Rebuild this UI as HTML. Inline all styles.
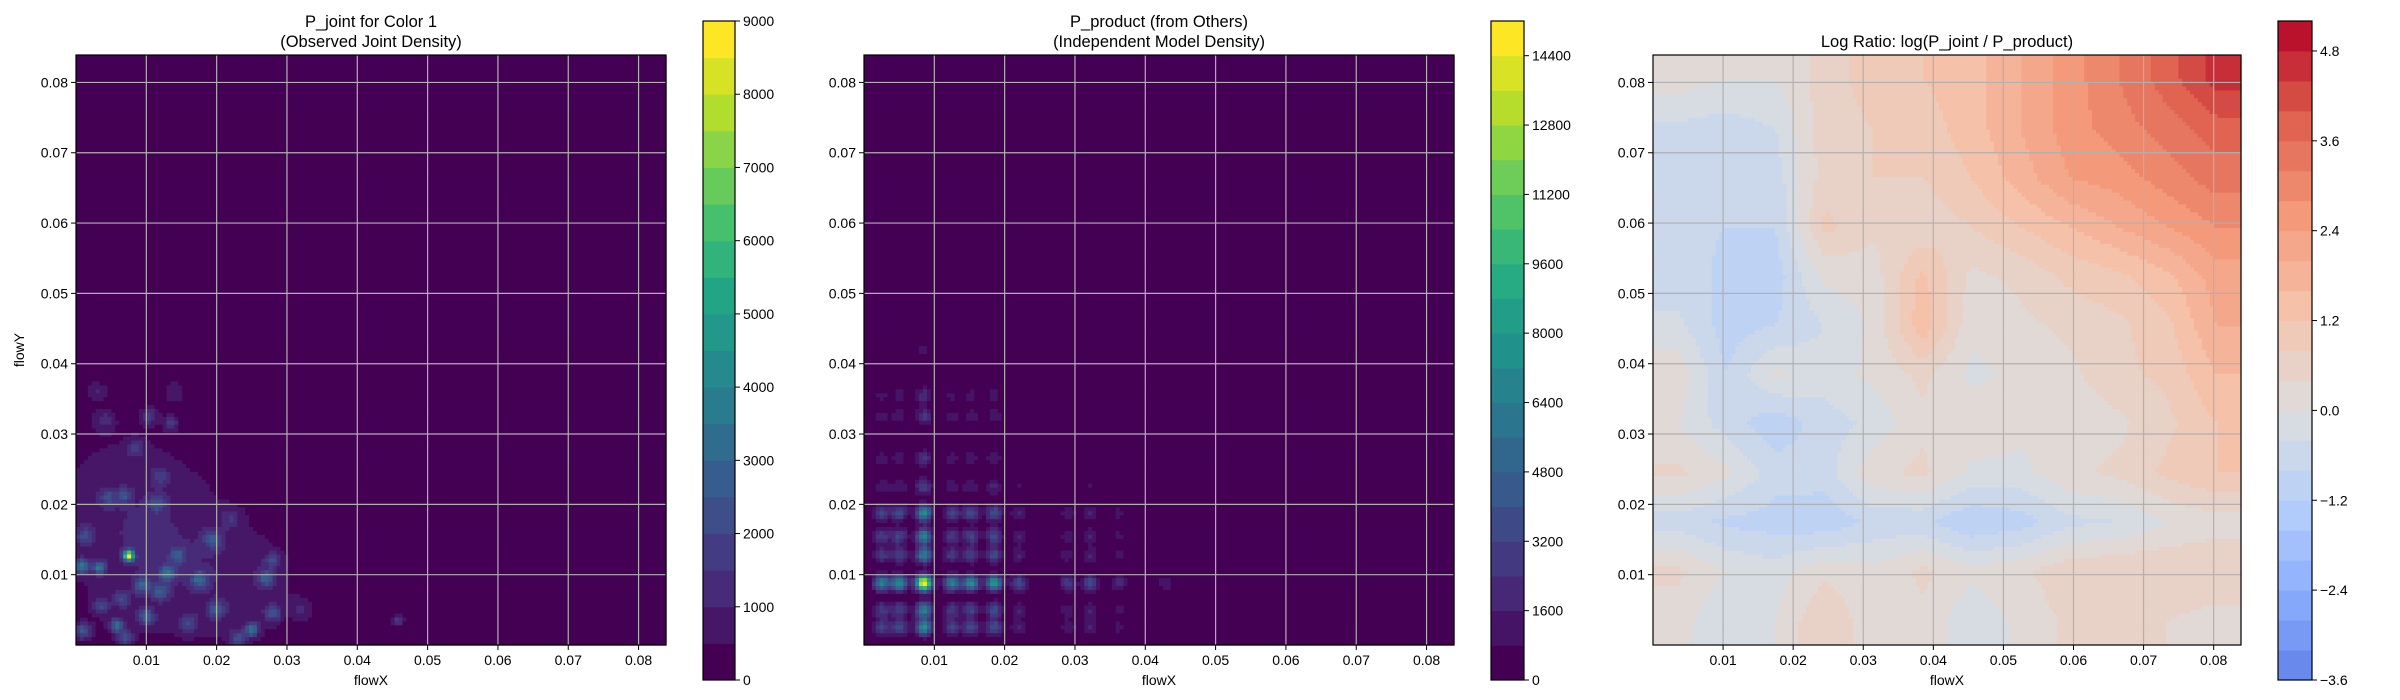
<!DOCTYPE html>
<html><head><meta charset="utf-8">
<style>
html,body{margin:0;padding:0;background:#fff;}
svg{display:block;font-family:"Liberation Sans","DejaVu Sans",sans-serif;}
</style></head>
<body>
<svg id="fig" width="2400" height="700" viewBox="0 0 2400 700" xmlns="http://www.w3.org/2000/svg">
<rect width="2400" height="700" fill="#fff"/>
</svg>
<script>
// ---------- DATA ----------
const xTicks = [0.01,0.02,0.03,0.04,0.05,0.06,0.07,0.08];
const yTicks = [0.01,0.02,0.03,0.04,0.05,0.06,0.07,0.08];
const tickLabels = ["0.01","0.02","0.03","0.04","0.05","0.06","0.07","0.08"];
const domainMin = 0.0, domainMax = 0.0839;

// Panel 1 blobs: [x, y, amplitude, sigma]
const jointBlobs = [
 [0.0075,0.0127,8000,0.0005],[0.0008,0.0112,3200,0.0007],[0.0033,0.0110,3200,0.0006],
 [0.0058,0.0028,2800,0.0007],[0.0095,0.0085,2400,0.0008],[0.0130,0.0102,2600,0.0008],
 [0.0175,0.0093,2400,0.0008],[0.0200,0.0050,2000,0.0008],[0.0250,0.0022,2800,0.0007],
 [0.0280,0.0045,1800,0.0008],[0.0270,0.0095,2200,0.0008],[0.0195,0.0150,2000,0.0009],
 [0.0010,0.0020,2400,0.0008],[0.0100,0.0040,2400,0.0008],[0.0458,0.0035,1800,0.0006],
 [0.0105,0.0325,1400,0.0008],[0.0135,0.0315,1400,0.0007],[0.0085,0.0280,1500,0.0008],
 [0.0045,0.0210,1600,0.0008],[0.0068,0.0212,1800,0.0007],[0.0115,0.0200,1500,0.0009],
 [0.0012,0.0155,1600,0.0009],[0.0145,0.0128,1800,0.0008],[0.0120,0.0075,2000,0.0008],
 [0.0065,0.0065,1400,0.0008],[0.0035,0.0055,1600,0.0008],[0.0280,0.0120,1500,0.0008],
 [0.0070,0.0010,1800,0.0008],[0.0160,0.0030,1500,0.0009],[0.0230,0.0010,1800,0.0008],
 [0.0120,0.0240,1200,0.0009],[0.0040,0.0320,1000,0.0010],[0.0140,0.0360,900,0.0010],
 [0.0030,0.0360,900,0.0010],[0.0220,0.0180,1000,0.0010],[0.0320,0.0050,900,0.0010],
 [0.0120,0.0120,800,0.0090],[0.0060,0.0220,500,0.0090],[0.0250,0.0080,600,0.0060]
];

// Panel 2 marginal peaks (product density)
const xPeakLocs = [0.0025,0.0050,0.0085,0.0125,0.0152,0.0185,0.0220,0.0290,0.0322,0.0362,0.0430];
const xPeakWts  = [0.45,0.50,1.00,0.45,0.50,0.55,0.25,0.20,0.25,0.15,0.10];
const yPeakLocs = [0.0025,0.0050,0.0088,0.0128,0.0155,0.0188,0.0225,0.0265,0.0325,0.0355,0.0420];
const yPeakWts  = [0.50,0.45,1.00,0.45,0.45,0.50,0.22,0.18,0.18,0.15,0.08];
const productPeak = 15000;

// Panel 3 log-ratio readings (rows top->bottom, cols left->right)
const ratioGrid = [
 [0.2,0.0,0.0,0.6,1.0,1.2,1.4,2.0,2.6,3.2,3.8,4.6],
 [-0.5,-0.6,-0.4,0.6,0.8,1.0,1.4,2.0,2.6,3.0,3.4,3.8],
 [-0.8,-0.8,-0.6,0.6,0.8,0.8,1.2,1.8,2.4,2.6,3.0,3.4],
 [-0.7,-0.8,-0.8,0.9,0.5,0.5,0.8,1.2,1.6,2.0,2.4,2.8],
 [-0.6,-0.9,-1.0,0.1,0.2,1.3,0.3,0.5,0.9,1.1,1.5,2.2],
 [-0.3,-1.0,-0.8,-0.4,0.1,1.5,0.1,0.3,0.5,0.7,1.1,2.0],
 [0.3,-0.8,0.1,-0.2,0.1,0.5,-0.1,0.1,0.3,0.7,0.9,1.6],
 [0.0,-0.6,-1.1,-0.6,-0.3,0.3,0.3,0.1,0.1,0.3,0.7,1.2],
 [0.5,0.1,-0.6,-0.6,0.3,0.5,-0.1,-0.1,0.3,0.5,0.9,1.2],
 [-0.6,-0.9,-1.0,-1.1,-0.7,-0.7,-1.2,-1.0,-0.5,-0.4,0.0,0.2],
 [0.5,0.0,-0.2,0.3,0.1,0.5,0.1,0.3,0.7,0.8,0.8,0.8],
 [0.2,-0.4,0.0,0.8,0.1,0.3,-0.3,0.1,0.5,0.4,0.4,0.2]
];

const cb1Ticks = [0,1000,2000,3000,4000,5000,6000,7000,8000,9000];
const cb2Ticks = [0,1600,3200,4800,6400,8000,9600,11200,12800,14400];
const cb3Ticks = [-3.6,-2.4,-1.2,0.0,1.2,2.4,3.6,4.8];
const cb3Labels = ["\u22123.6","\u22122.4","\u22121.2","0.0","1.2","2.4","3.6","4.8"];

// ---------- helpers ----------
const NS="http://www.w3.org/2000/svg";
const svg=document.getElementById('fig');
function mk(tag,attrs,parent){const e=document.createElementNS(NS,tag);for(const k in attrs)e.setAttribute(k,attrs[k]);(parent||svg).appendChild(e);return e;}
function lerpStops(stops,t){t=Math.max(0,Math.min(1,t));const n=stops.length-1;const f=t*n;const i=Math.min(n-1,Math.floor(f));const u=f-i;const a=stops[i],b=stops[i+1];
 return 'rgb('+Math.round(a[0]+(b[0]-a[0])*u)+','+Math.round(a[1]+(b[1]-a[1])*u)+','+Math.round(a[2]+(b[2]-a[2])*u)+')';}
const viridis=[[68,1,84],[72,36,117],[65,68,135],[53,95,141],[42,120,142],[33,145,140],[34,168,132],[68,191,112],[122,209,81],[189,223,38],[253,231,37]];
const coolwarm=[[59,76,192],[98,130,234],[141,176,254],[184,208,249],[221,221,221],[245,196,173],[244,154,123],[222,96,77],[180,4,38]];

function panel(cfg){
 const {L,R,T,B}=cfg;
 const sx=v=>L+(v-domainMin)/(domainMax-domainMin)*(R-L);
 const sy=v=>B-(v-domainMin)/(domainMax-domainMin)*(B-T);
 const nLev=cfg.levels.length-1;
 const bandColor=k=>cfg.tOf?lerpStops(cfg.cmap,cfg.tOf((cfg.levels[k]+cfg.levels[k+1])/2)):lerpStops(cfg.cmap,k/(nLev-1));
 const g=mk('g',{});
 
 
 const N=150, cw=(R-L)/N, ch=(B-T)/N;
 for(let j=0;j<N;j++){
  const yv=domainMax-(j+0.5)/N*(domainMax-domainMin);
  let runStart=0, runLev=-1;
  const levs=[];
  for(let i=0;i<N;i++){
   const xv=domainMin+(i+0.5)/N*(domainMax-domainMin);
   const v=cfg.f(xv,yv);
   let k=0; while(k<nLev-1 && v>=cfg.levels[k+1]) k++;
   levs.push(k);
  }
  levs.push(-2);
  for(let i=0;i<=N;i++){
   if(levs[i]!==runLev){
    if(runLev>=0){
     const r=mk('rect',{x:(L+runStart*cw).toFixed(2),y:(T+j*ch).toFixed(2),width:((i-runStart)*cw+0.6).toFixed(2),height:(ch+0.6).toFixed(2),fill:bandColor(runLev)},g);
     
     
    }
    runStart=i; runLev=levs[i];
   }
  }
 }
 const grid=mk('g',{stroke:'#b0b0b0','stroke-width':1.2});
 
 
 xTicks.forEach(v=>mk('line',{x1:sx(v),x2:sx(v),y1:T,y2:B},grid));
 yTicks.forEach(v=>mk('line',{y1:sy(v),y2:sy(v),x1:L,x2:R},grid));
 const fr=mk('rect',{x:L,y:T,width:R-L,height:B-T,fill:'none',stroke:'#000','stroke-width':1.2});
 
 
 const xt=mk('g',{'font-size':'14px',fill:'#000','text-anchor':'middle'});
 
 
 xTicks.forEach((v,i)=>{mk('line',{x1:sx(v),x2:sx(v),y1:B,y2:B+5,stroke:'#000'},xt);const t=mk('text',{x:sx(v),y:B+20},xt);t.textContent=tickLabels[i];});
 const yt=mk('g',{'font-size':'14px',fill:'#000','text-anchor':'end'});
 
 
 yTicks.forEach((v,i)=>{mk('line',{x1:L-5,x2:L,y1:sy(v),y2:sy(v),stroke:'#000'},yt);const t=mk('text',{x:L-8,y:sy(v)+5},yt);t.textContent=tickLabels[i];});
 const xl=mk('text',{x:(L+R)/2,y:B+40,'font-size':'14px','text-anchor':'middle'});
 xl.textContent='flowX';
 
 
 const tt=mk('text',{x:(L+R)/2,y:cfg.title.length>1?27:47,'font-size':'16.5px','text-anchor':'middle'});
 
 
 cfg.title.forEach((s,i)=>{const ts=mk('tspan',{x:(L+R)/2,dy:i?20:0},tt);ts.textContent=s;});
 const cb=mk('g',{});
 
 
 const cT=21,cB=680,cL=cfg.cbL,cR=cfg.cbR;
 const lv=cfg.levels, lo=lv[0], hi=lv[lv.length-1];
 const cy=v=>cB-(v-lo)/(hi-lo)*(cB-cT);
 for(let k=0;k<nLev;k++){
  const r=mk('rect',{x:cL,y:cy(lv[k+1]),width:cR-cL,height:cy(lv[k])-cy(lv[k+1])+0.5,fill:bandColor(k)},cb);
  
  
 }
 mk('rect',{x:cL,y:cT,width:cR-cL,height:cB-cT,fill:'none',stroke:'#000','stroke-width':1.2},cb);
 cfg.cbTicks.forEach((v,i)=>{mk('line',{x1:cR,x2:cR+5,y1:cy(v),y2:cy(v),stroke:'#000'},cb);const t=mk('text',{x:cR+8,y:cy(v)+5,'font-size':'14px'},cb);t.textContent=cfg.cbLabels?cfg.cbLabels[i]:String(v);});
}

function range(a,b,s){const r=[];for(let v=a;v<=b+1e-9;v+=s)r.push(+v.toFixed(6));return r;}
function gauss(d,s){return Math.exp(-d*d/(2*s*s));}

panel({name:'joint',L:76,R:666,T:55,B:645,cbL:703,cbR:735,cmap:viridis,levels:range(0,9000,500),cbTicks:cb1Ticks,
 title:['P_joint for Color 1','(Observed Joint Density)'],
 f:(x,y)=>{let s=0;for(const b of jointBlobs){s+=b[2]*gauss(x-b[0],b[3])*gauss(y-b[1],b[3]);}return s;}});
const yl=mk('text',{x:0,y:0,'font-size':'14px','text-anchor':'middle',transform:'translate(24,350) rotate(-90)'});
yl.textContent='flowY';



panel({name:'product',L:864,R:1454,T:55,B:645,cbL:1491,cbR:1524,cmap:viridis,levels:range(0,15200,800),cbTicks:cb2Ticks,
 title:['P_product (from Others)','(Independent Model Density)'],
 f:(x,y)=>{let fx=0,fy=0;for(let i=0;i<xPeakLocs.length;i++)fx+=xPeakWts[i]*gauss(x-xPeakLocs[i],0.0008);
  for(let i=0;i<yPeakLocs.length;i++)fy+=yPeakWts[i]*gauss(y-yPeakLocs[i],0.0008);return productPeak*fx*fy;}});

panel({name:'log-ratio',L:1653,R:2241,T:55,B:645,cbL:2278,cbR:2312,cmap:coolwarm,levels:range(-3.6,5.2,0.4),cbTicks:cb3Ticks,cbLabels:cb3Labels,
 tOf:v=>v<0?0.5*(v+3.6)/3.6*0.75+0.125:0.5+0.5*v/5.2,
 title:['Log Ratio: log(P_joint / P_product)'],
 f:(x,y)=>{const n=ratioGrid.length,m=ratioGrid[0].length;
  const cx=Math.max(0,Math.min(m-1,(x-domainMin)/(domainMax-domainMin)*m-0.5));
  const ry=Math.max(0,Math.min(n-1,(domainMax-y)/(domainMax-domainMin)*n-0.5));
  const i0=Math.min(m-2,Math.floor(cx)),j0=Math.min(n-2,Math.floor(ry));const u=cx-i0,w=ry-j0;
  return ratioGrid[j0][i0]*(1-u)*(1-w)+ratioGrid[j0][i0+1]*u*(1-w)+ratioGrid[j0+1][i0]*(1-u)*w+ratioGrid[j0+1][i0+1]*u*w;}});
</script>
</body></html>
